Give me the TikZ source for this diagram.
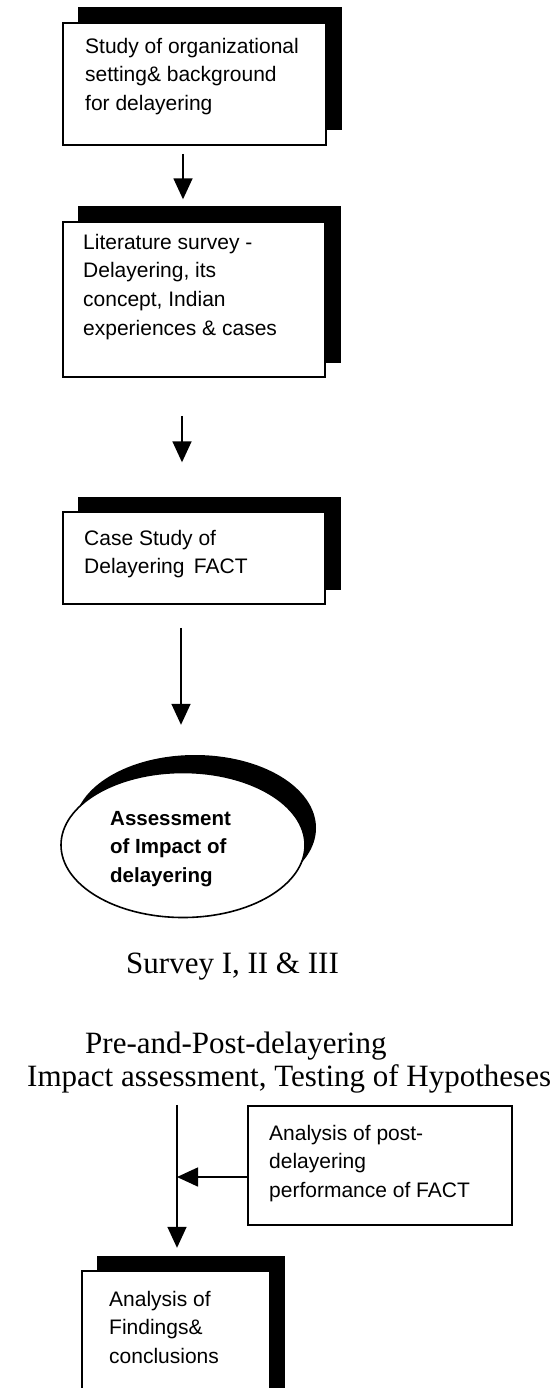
\documentclass[tikz,border=0pt]{standalone}
\usepackage{fontspec}
\setmainfont{Liberation Serif}
\setsansfont{Liberation Sans}
\usetikzlibrary{arrows.meta,shapes.geometric}
% first-line strut: fixes the distance from a text block's top to its first baseline
\newcommand\lnstrut{\rule{0pt}{17pt}}
\begin{document}
\begin{tikzpicture}[x=1pt,y=-1pt,
  shade box/.style={fill=black, draw=none, inner sep=0pt},
  front box/.style={draw=black, line width=1.6pt, fill=white, inner sep=0pt},
  box text/.style={anchor=north west, inner sep=0pt, align=left,
    font=\sffamily\fontsize{21}{28.7}\selectfont},
  oval text/.style={box text, font=\sffamily\bfseries\fontsize{20.5}{28.5}\selectfont},
  serif text/.style={anchor=base west, inner sep=0pt,
    font=\rmfamily\fontsize{31}{36}\selectfont},
  flow/.style={line width=1.6pt, -{Triangle[length=21pt,width=19pt]}},
]
\useasboundingbox (0,0) rectangle (558,1388);
\clip (0,0) rectangle (558,1388);

% ---- step 1
\node[shade box, minimum width=264pt, minimum height=123pt] (s1) at (209.5,69) {};
\node[front box, minimum width=263pt, minimum height=122pt] (b1) at (194.5,84) {};
\node[box text] (t1) at (85,36) {\lnstrut Study of organizational\\setting\& background\\for delayering};

% ---- step 2
\node[shade box, minimum width=263pt, minimum height=156pt] (s2) at (209,284.5) {};
\node[front box, minimum width=262pt, minimum height=155pt] (b2) at (194,299.5) {};
\node[box text] (t2) at (83,232) {\lnstrut Literature survey -\\Delayering, its\\concept, Indian\\experiences \& cases};

% ---- step 3
\node[shade box, minimum width=263pt, minimum height=93pt] (s3) at (209,543) {};
\node[front box, minimum width=262pt, minimum height=92pt] (b3) at (194,558) {};
\node[box text] (t3) at (84,528) {\lnstrut Case Study of\\Delayering\hspace{0.45em}FACT};

% ---- assessment oval
\node[shade box, ellipse, minimum width=242pt, minimum height=146pt] (e1s) at (195,828) {};
\node[front box, ellipse, minimum width=244pt, minimum height=145pt] (e1) at (183,845) {};
\node[oval text] (te) at (110,808) {\lnstrut Assessment\\of Impact of\\delayering};

% ---- captions
\node[serif text] (sv) at (126,973) {Survey I, II \& III};
\node[serif text] (pp) at (85,1053) {Pre-and-Post-delayering};
\node[serif text] (hyp) at (27,1086) {Impact assessment, Testing of Hypotheses};

% ---- side input
\node[front box, minimum width=264pt, minimum height=119pt] (sb) at (380,1165.5) {};
\node[box text] (ts) at (269,1123) {\lnstrut Analysis of post-\\delayering\\performance of FACT};

% ---- findings (runs past the lower edge)
\node[shade box, minimum width=188pt, minimum height=150pt] (s4) at (191,1331) {};
\node[front box, minimum width=188pt, minimum height=150pt] (b4) at (176,1346) {};
\node[box text] (t4) at (109,1289) {\lnstrut Analysis of\\Findings\&\\conclusions};

% ---- connectors
\draw[flow, shorten <=8pt, shorten >=7pt]
  ([xshift=-11.5pt]b1.south) -- ([xshift=-11.5pt]b1.south |- s2.north);
\draw[flow, shorten <=38pt, shorten >=34pt]
  ([xshift=-12pt]b2.south) -- ([xshift=-12pt]b2.south |- s3.north);
\draw[flow, shorten <=23pt, shorten >=30pt]
  ([xshift=-13pt]b3.south) -- ([xshift=-13pt]b3.south |- e1s.north);

\coordinate (j) at (177,1177);
\draw[flow, shorten <=12pt, shorten >=8pt] (j |- hyp.south) -- (j |- s4.north);
\draw[flow] (sb.west |- j) -- (j);
\end{tikzpicture}
\end{document}
